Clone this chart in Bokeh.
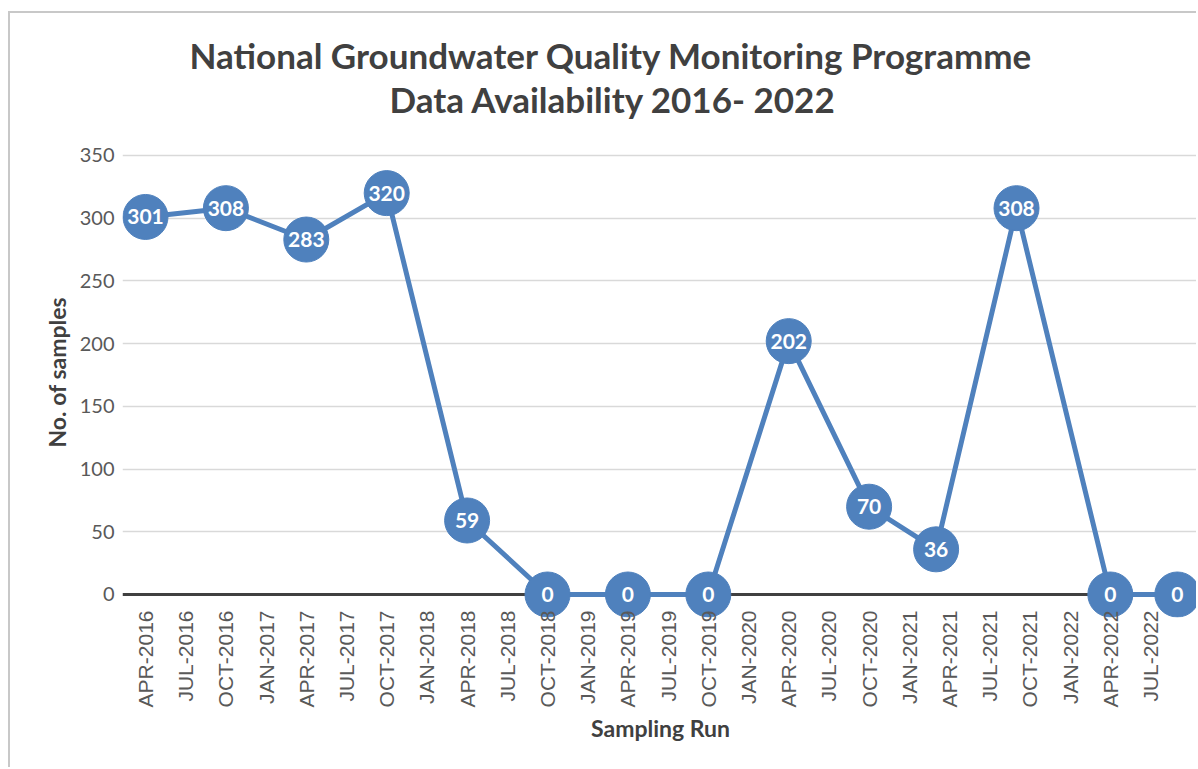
import math
from bokeh.plotting import figure
from bokeh.models import ColumnDataSource, FixedTicker, Range1d, Span, Title
from bokeh.core.properties import value
from bokeh.embed import file_html
from bokeh.resources import INLINE

# ---- data ----
sampling_runs = ["APR-2016", "OCT-2016", "APR-2017", "OCT-2017", "APR-2018", "OCT-2018",
                 "APR-2019", "OCT-2019", "APR-2020", "OCT-2020", "MAR-2021", "SEP-2021",
                 "APR-2022", "SEP-2022"]
samples = [301, 308, 283, 320, 59, 0, 0, 0, 202, 70, 36, 308, 0, 0]
tick_labels = ["APR-2016", "JUL-2016", "OCT-2016", "JAN-2017", "APR-2017", "JUL-2017",
               "OCT-2017", "JAN-2018", "APR-2018", "JUL-2018", "OCT-2018", "JAN-2019",
               "APR-2019", "JUL-2019", "OCT-2019", "JAN-2020", "APR-2020", "JUL-2020",
               "OCT-2020", "JAN-2021", "APR-2021", "JUL-2021", "OCT-2021", "JAN-2022",
               "APR-2022", "JUL-2022"]
y_ticks = [0, 50, 100, 150, 200, 250, 300, 350]

MONTHS = {"JAN": 1, "FEB": 2, "MAR": 3, "APR": 4, "MAY": 5, "JUN": 6, "JUL": 7,
          "AUG": 8, "SEP": 9, "OCT": 10, "NOV": 11, "DEC": 12}


def month_index(lbl):
    mon, yr = lbl.split("-")
    return (int(yr) - 2016) * 12 + MONTHS[mon] - 4


xs = [month_index(s) for s in sampling_runs]
tick_pos = [month_index(t) for t in tick_labels]

src = ColumnDataSource(dict(x=xs, y=samples, lab=[str(v) for v in samples]))

BLUE = "#4F81BD"
DARK = "#404040"
GREY = "#595959"

p = figure(width=1188, height=756, output_backend="svg", toolbar_location=None,
           title_location=None,
           x_range=Range1d(-1.716, 78.58), y_range=Range1d(-18.34, 377.9),
           min_border_left=112, min_border_right=0, min_border_top=107,
           min_border_bottom=152)
p.outline_line_color = None
p.styles = {"margin-left": "8px", "margin-top": "11px",
            "border-left": "2px solid #C8C8C8", "border-top": "2px solid #C8C8C8"}

# titles (line 2 nearest to the plot)
p.add_layout(Title(text="Data Availability 2016- 2022", align="left", offset=267,
                   text_font="Lato", text_font_style="bold", text_font_size="35px",
                   text_color=DARK, standoff=1), "above")
p.add_layout(Title(text="National Groundwater Quality Monitoring Programme", align="left",
                   offset=67, text_font="Lato", text_font_style="bold",
                   text_font_size="35px", text_color=DARK, standoff=0), "above")

# grid
p.xgrid.visible = False
p.ygrid.ticker = FixedTicker(ticks=y_ticks[1:])
p.ygrid.grid_line_color = "#D9D9D9"
p.ygrid.grid_line_width = 1.3

# zero line
p.add_layout(Span(location=0, dimension="width", line_color=DARK,
                  line_width=3, level="underlay"))

# y axis
ya = p.yaxis[0]
ya.ticker = FixedTicker(ticks=y_ticks)
ya.axis_line_color = None
ya.major_tick_line_color = None
ya.minor_tick_line_color = None
ya.major_tick_out = 0
ya.major_label_standoff = 8
ya.major_label_text_font = "Lato"
ya.major_label_text_font_size = "20px"
ya.major_label_text_color = GREY

# y axis title (placed as a side title so it centres on the 0-350 span)
p.add_layout(Title(text="No. of samples", align="left", offset=170,
                   text_font="Lato", text_font_style="bold", text_font_size="23px",
                   text_color=DARK, standoff=12), "left")

# x axis
xa = p.xaxis[0]
xa.ticker = FixedTicker(ticks=tick_pos)
xa.major_label_overrides = {pos: lbl for pos, lbl in zip(tick_pos, tick_labels)}
xa.major_label_orientation = math.pi / 2
xa.axis_line_color = None
xa.major_tick_line_color = None
xa.minor_tick_line_color = None
xa.major_tick_out = 0
xa.major_tick_in = 0
xa.major_label_standoff = -7
xa.major_label_text_font = "Liberation Sans"
xa.major_label_text_font_size = "21px"
xa.major_label_text_color = GREY
xa.axis_label = "Sampling Run"
xa.axis_label_text_font = "Lato"
xa.axis_label_text_font_style = "bold"
xa.axis_label_text_font_size = "23px"
xa.axis_label_text_color = DARK
xa.axis_label_standoff = 4

# series
p.line("x", "y", source=src, line_color=BLUE, line_width=5)
p.scatter("x", "y", source=src, size=45, fill_color=BLUE, line_color=BLUE)
p.text("x", "y", text="lab", source=src, text_color="white",
       text_font=value("Lato"), text_font_style="bold", text_font_size="21px",
       text_align="center", text_baseline="middle")

open("out.html", "w").write(file_html(p, INLINE))
